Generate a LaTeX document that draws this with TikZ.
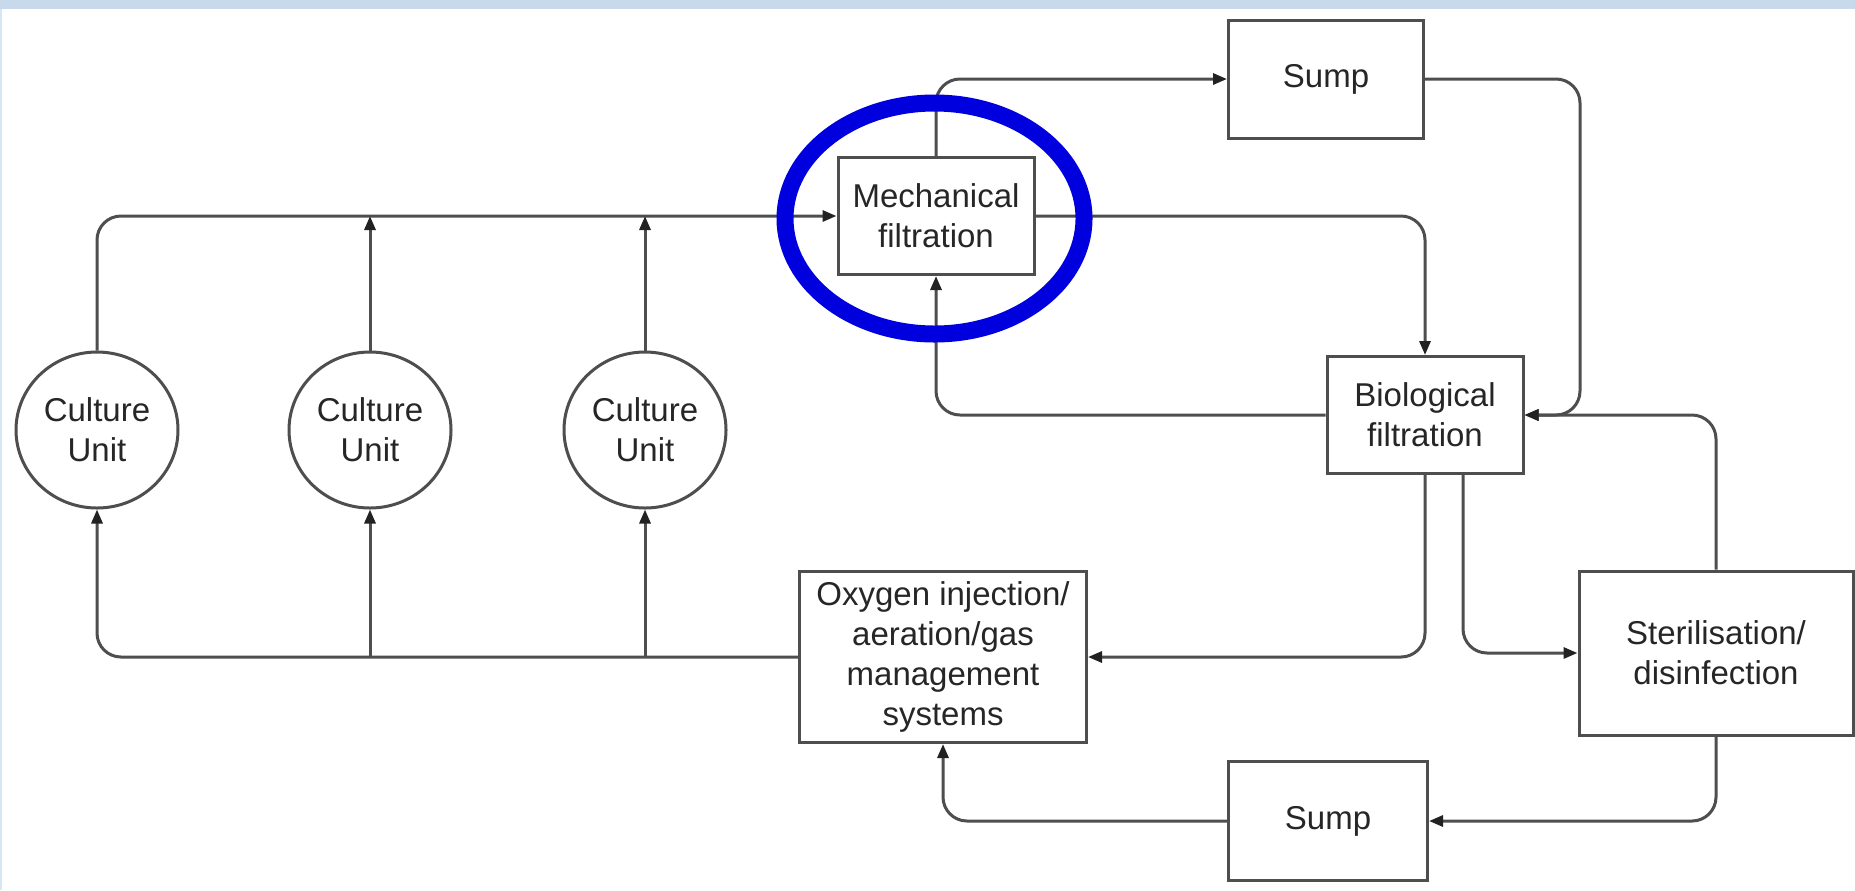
\documentclass[tikz,border=0pt]{standalone}
\usepackage{fontspec}
\setmainfont{Liberation Sans}
\usetikzlibrary{arrows.meta,shapes.geometric}
\definecolor{band}{HTML}{C8D9EC}
\definecolor{edge}{HTML}{D6E6F2}
\definecolor{ink}{HTML}{4E4E4E}
\definecolor{txt}{HTML}{262626}
\definecolor{tip}{HTML}{222222}
\definecolor{hlblue}{RGB}{0,0,222}
\begin{document}
\begin{tikzpicture}[x=0.5pt,y=-0.5pt,
  box/.style={draw=ink,line width=1.5pt,fill=white,rectangle,inner sep=0pt,
    align=center,text=txt,font=\fontsize{16.5}{20}\selectfont},
  unit/.style={draw=ink,line width=1.5pt,fill=white,ellipse,inner sep=0pt,
    minimum width=81pt,minimum height=78pt,align=center,text=txt,
    font=\fontsize{16.5}{20}\selectfont},
  conn/.style={draw=ink,line width=1.5pt,rounded corners=12pt},
  arr/.style={conn,-{Triangle[length=7pt,width=5.5pt,color=tip,fill=tip]}}]
\useasboundingbox (0,0) rectangle (1855,890);
\fill[white] (0,0) rectangle (1855,890);
\fill[band] (0,0) rectangle (1855,9);
\fill[edge] (0,9) rectangle (2,890);

% nodes
\node[unit] (cu1) at (97,430) {Culture\\Unit};
\node[unit] (cu2) at (370,430) {Culture\\Unit};
\node[unit] (cu3) at (645,430) {Culture\\Unit};
\node[box,minimum width=98pt,minimum height=58.5pt] (mech) at (936,216) {Mechanical\\filtration};
\node[box,minimum width=97.5pt,minimum height=59pt] (sump1) at (1326,79) {Sump};
\node[box,minimum width=98pt,minimum height=58.5pt] (bio) at (1425,415) {Biological\\filtration};
\node[box,minimum width=143.5pt,minimum height=85.5pt] (oxy) at (943,657) {Oxygen injection/\\aeration/gas\\management\\systems};
\node[box,minimum width=137pt,minimum height=82pt] (ster) at (1716,653) {Sterilisation/\\disinfection};
\node[box,minimum width=99.5pt,minimum height=59.5pt] (sump2) at (1328,821) {Sump};

% helper coordinates
\coordinate (j2) at (cu2.north |- mech.west);
\coordinate (j3) at (cu3.north |- mech.west);
\coordinate (k2) at (cu2.south |- oxy.west);
\coordinate (k3) at (cu3.south |- oxy.west);
\coordinate (r1) at (1580,415);

% connectors
\draw[arr] (cu1.north) |- (mech.west);
\draw[arr] (cu2.north) -- (j2);
\draw[arr] (cu3.north) -- (j3);
\draw[arr] (mech.north) |- (sump1.west);
\draw[arr] (sump1.east) -| (r1) -- (bio.east);
\draw[arr] (mech.east) -| (bio.north);
\draw[arr] (bio.west) -| (mech.south);
\draw[arr] (ster.north) |- (bio.east);
\draw[arr] (bio.south) |- (oxy.east);
\draw[arr] ([xshift=19pt]bio.south) |- (ster.west);
\draw[arr] (ster.south) |- (sump2.east);
\draw[arr] (sump2.west) -| (oxy.south);
\draw[arr] (oxy.west) -| (cu1.south);
\draw[arr] (k2) -- (cu2.south);
\draw[arr] (k3) -- (cu3.south);

% highlight
\node[draw=hlblue,line width=8.5pt,ellipse,inner sep=0pt,
  minimum width=149.5pt,minimum height=115.5pt] (hl) at (934.5,218.5) {};
\end{tikzpicture}
\end{document}
